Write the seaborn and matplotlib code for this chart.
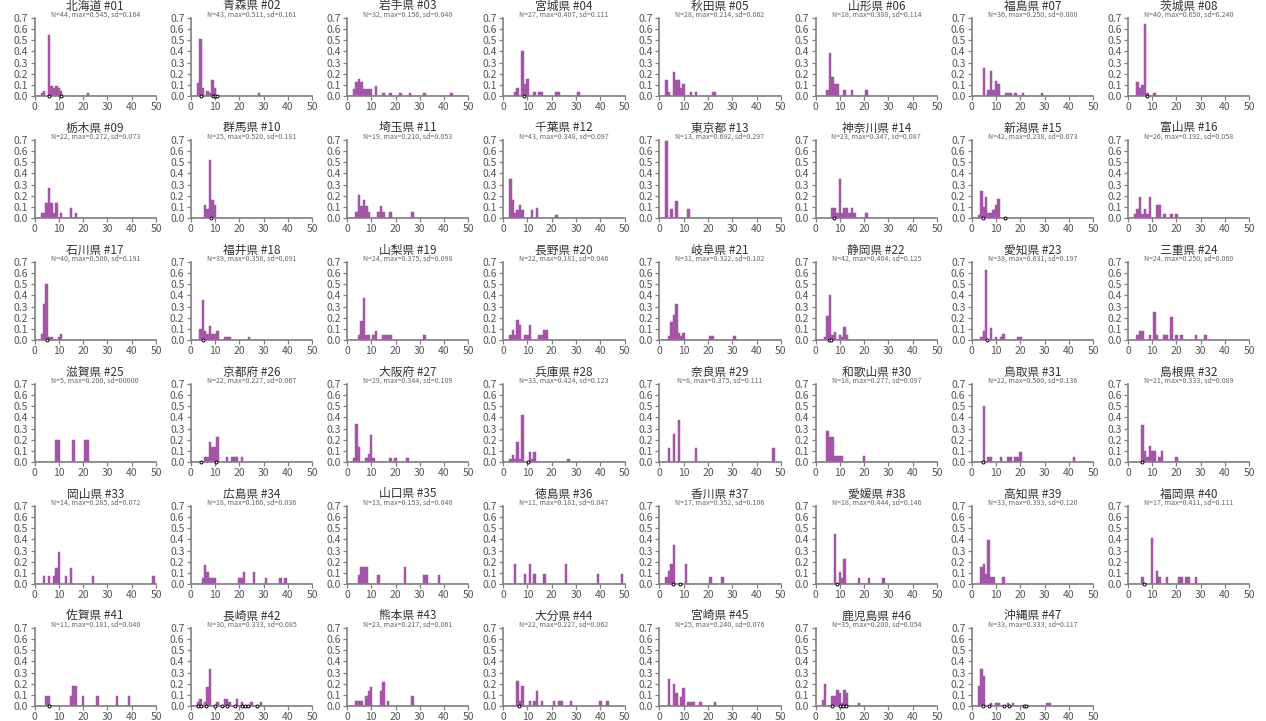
import numpy as np
import pandas as pd
import seaborn as sns
import matplotlib.pyplot as plt

NAMES = ["北海道", "青森県", "岩手県", "宮城県", "秋田県", "山形県", "福島県", "茨城県",
         "栃木県", "群馬県", "埼玉県", "千葉県", "東京都", "神奈川県", "新潟県", "富山県",
         "石川県", "福井県", "山梨県", "長野県", "岐阜県", "静岡県", "愛知県", "三重県",
         "滋賀県", "京都府", "大阪府", "兵庫県", "奈良県", "和歌山県", "鳥取県", "島根県",
         "岡山県", "広島県", "山口県", "徳島県", "香川県", "愛媛県", "高知県", "福岡県",
         "佐賀県", "長崎県", "熊本県", "大分県", "宮崎県", "鹿児島県", "沖縄県"]
N = [44, 43, 32, 27, 28, 18, 36, 40, 22, 25, 19, 43, 13, 23, 42, 26, 40, 39, 24, 22,
     31, 42, 38, 24, 5, 22, 29, 33, 8, 18, 22, 21, 14, 18, 13, 11, 17, 18, 33, 17,
     11, 30, 23, 22, 25, 35, 33]
MAXV = ["0.545", "0.511", "0.156", "0.407", "0.214", "0.388", "0.250", "0.650",
        "0.272", "0.520", "0.210", "0.348", "0.692", "0.347", "0.238", "0.192",
        "0.500", "0.358", "0.375", "0.181", "0.322", "0.404", "0.631", "0.250",
        "0.200", "0.227", "0.344", "0.424", "0.375", "0.277", "0.500", "0.333",
        "0.285", "0.166", "0.153", "0.181", "0.352", "0.444", "0.393", "0.411",
        "0.181", "0.333", "0.217", "0.227", "0.240", "0.200", "0.333"]
SD = ["0.164", "0.161", "0.040", "0.111", "0.062", "0.114", "0.080", "0.240",
      "0.073", "0.181", "0.053", "0.097", "0.297", "0.087", "0.073", "0.058",
      "0.191", "0.091", "0.098", "0.046", "0.102", "0.125", "0.197", "0.069",
      "00000", "0.067", "0.109", "0.123", "0.111", "0.097", "0.136", "0.089",
      "0.072", "0.036", "0.040", "0.047", "0.106", "0.146", "0.120", "0.111",
      "0.040", "0.085", "0.061", "0.062", "0.076", "0.054", "0.117"]

# bar centres (integer values) per prefecture
BINS = [
    [3, 4, 6, 7, 8, 9, 10, 11, 22],
    [3, 4, 5, 7, 8, 9, 10, 28],
    [3, 4, 5, 6, 7, 8, 9, 10, 12, 15, 18, 22, 26, 32, 43],
    [5, 6, 8, 9, 10, 13, 15, 16, 22, 23, 31],
    [3, 4, 6, 7, 8, 9, 10, 13, 15, 22, 23],
    [5, 6, 7, 8, 9, 12, 15, 21],
    [5, 7, 8, 9, 10, 11, 14, 15, 16, 18, 21, 29],
    [4, 5, 6, 7, 8, 11],
    [3, 4, 5, 6, 7, 8, 9, 11, 15, 17],
    [6, 7, 8, 9, 10],
    [4, 5, 6, 7, 8, 9, 13, 14, 15, 18, 27],
    [3, 4, 5, 6, 7, 8, 12, 14, 22],
    [3, 5, 7, 12],
    [7, 8, 9, 10, 11, 12, 13, 14, 15, 16, 21],
    [3, 4, 5, 6, 7, 8, 9, 10, 11],
    [3, 4, 5, 6, 7, 8, 9, 12, 13, 15, 18, 20],
    [3, 4, 5, 6, 7, 10, 11],
    [4, 5, 6, 7, 8, 9, 10, 11, 14, 15, 16, 24],
    [5, 6, 7, 8, 9, 11, 12, 15, 16, 17, 18, 32],
    [3, 4, 5, 6, 7, 9, 10, 11, 15, 16, 17, 18],
    [4, 5, 6, 7, 8, 9, 10, 21, 22, 31],
    [4, 5, 6, 7, 8, 10, 11, 12, 13],
    [4, 5, 6, 8, 10, 12, 13, 19, 20],
    [4, 5, 6, 9, 11, 12, 15, 16, 18, 20, 22, 28, 32],
    [9, 10, 16, 21, 22],
    [6, 7, 8, 9, 10, 11, 15, 17, 18, 19, 21],
    [3, 4, 5, 8, 9, 10, 11, 18, 20, 25],
    [3, 4, 5, 6, 7, 8, 11, 12, 13, 27],
    [4, 6, 8, 15, 47],
    [5, 6, 7, 8, 9, 10, 11, 20],
    [5, 7, 8, 12, 15, 16, 18, 19, 20, 42],
    [6, 7, 8, 9, 10, 11, 13, 14, 20],
    [4, 6, 8, 9, 10, 13, 15, 24, 49],
    [5, 6, 7, 8, 9, 10, 20, 21, 22, 26, 31, 37, 39],
    [5, 6, 7, 8, 13, 24, 32, 33, 38],
    [5, 9, 11, 13, 17, 26, 39, 49],
    [3, 4, 5, 6, 11, 21, 26],
    [8, 10, 11, 12, 18, 22, 28],
    [4, 5, 6, 7, 8, 9, 13],
    [6, 10, 12, 13, 16, 21, 22, 24, 25, 28],
    [5, 6, 15, 16, 17, 20, 26, 34, 39],
    [3, 4, 6, 7, 8, 11, 14, 15, 16, 19, 21, 25, 29],
    [4, 5, 6, 8, 9, 10, 14, 15, 17, 27],
    [6, 7, 8, 11, 13, 14, 16, 21, 23, 24, 28, 40, 43],
    [4, 6, 7, 9, 10, 12, 13, 14, 17, 23],
    [3, 4, 7, 8, 9, 10, 11, 12, 13, 18],
    [3, 4, 5, 8, 10, 11, 15, 17, 31, 32],
]
COUNTS = [
    [1, 2, 24, 4, 3, 4, 3, 2, 1],
    [5, 22, 3, 2, 1, 6, 3, 1],
    [2, 4, 5, 4, 2, 2, 2, 2, 3, 1, 1, 1, 1, 1, 1],
    [1, 2, 11, 3, 4, 1, 1, 1, 1, 1, 1],
    [4, 1, 6, 4, 4, 2, 3, 1, 1, 1, 1],
    [1, 7, 3, 2, 2, 1, 1, 1],
    [9, 2, 8, 2, 5, 4, 1, 1, 1, 1, 1, 1],
    [5, 3, 4, 26, 1, 1],
    [1, 1, 3, 6, 3, 1, 3, 1, 2, 1],
    [3, 2, 13, 4, 3],
    [1, 4, 2, 3, 2, 1, 1, 2, 1, 1, 1],
    [15, 7, 2, 3, 5, 3, 3, 4, 1],
    [9, 1, 2, 1],
    [2, 2, 1, 8, 1, 2, 2, 1, 2, 1, 1],
    [1, 10, 4, 8, 2, 2, 3, 5, 7],
    [1, 2, 5, 1, 2, 1, 5, 3, 3, 1, 1, 1],
    [2, 13, 20, 1, 1, 1, 2],
    [4, 14, 3, 2, 5, 2, 2, 3, 1, 1, 1, 1],
    [1, 4, 9, 1, 1, 1, 2, 1, 1, 1, 1, 1],
    [1, 2, 1, 4, 3, 1, 1, 3, 1, 1, 2, 2],
    [1, 5, 7, 10, 2, 1, 2, 1, 1, 1],
    [1, 9, 17, 2, 3, 2, 1, 5, 2],
    [1, 3, 24, 4, 1, 1, 2, 1, 1],
    [1, 2, 2, 1, 6, 1, 1, 1, 5, 1, 1, 1, 1],
    [1, 1, 1, 1, 1],
    [1, 1, 4, 3, 3, 5, 1, 1, 1, 1, 1],
    [1, 10, 4, 1, 2, 7, 1, 1, 1, 1],
    [1, 2, 1, 6, 1, 14, 3, 1, 3, 1],
    [1, 2, 3, 1, 1],
    [5, 4, 4, 1, 1, 1, 1, 1],
    [11, 1, 1, 1, 1, 1, 1, 1, 2, 1],
    [7, 2, 1, 3, 2, 2, 1, 2, 1],
    [1, 1, 1, 2, 4, 1, 2, 1, 1],
    [1, 3, 2, 1, 1, 1, 1, 1, 2, 2, 1, 1, 1],
    [1, 2, 2, 2, 1, 2, 1, 1, 1],
    [2, 1, 2, 1, 1, 2, 1, 1],
    [1, 2, 3, 6, 3, 1, 1],
    [8, 2, 1, 4, 1, 1, 1],
    [5, 6, 3, 13, 2, 2, 2],
    [1, 7, 2, 1, 1, 1, 1, 1, 1, 1],
    [1, 1, 1, 2, 2, 1, 1, 1, 1],
    [1, 2, 1, 5, 10, 1, 2, 2, 1, 2, 1, 1, 1],
    [1, 1, 1, 2, 3, 4, 3, 5, 1, 2],
    [5, 1, 4, 1, 1, 3, 1, 1, 1, 1, 1, 1, 1],
    [6, 5, 3, 2, 4, 1, 1, 1, 1, 1],
    [2, 7, 3, 3, 5, 4, 1, 5, 4, 1],
    [6, 11, 9, 1, 1, 1, 1, 1, 1, 1],
]
MARKS = [
    [6.0, 11.0], [4.4, 9.2, 10.0, 10.9], [], [8.7], [], [], [], [7.9],
    [], [8.2], [], [], [], [7.7], [4.7, 13.7], [],
    [5.0], [5.2], [], [], [], [5.5, 6.2], [6.5], [],
    [], [4.2, 10.4], [], [10.4], [], [], [4.7], [5.7],
    [], [], [], [], [5.5, 8.5], [8.7], [], [6.7],
    [6.0], [3.2, 4.2, 6.2, 10.2, 13.0, 14.9, 18.2, 21.0, 22.2, 23.5, 27.2], [], [6.5],
    [], [6.7, 10.2, 11.2, 12.7], [4.7, 7.2, 13.2, 15.2, 21.7, 22.5],
]
Y_TICKS = [0.0, 0.1, 0.2, 0.3, 0.4, 0.5, 0.6, 0.7]
X_TICKS = [0, 10, 20, 30, 40, 50]

PURPLE = "#a455a8"
AXIS_COLOR = "#808080"
LABEL_COLOR = "#555555"

sns.set_style("ticks")
plt.rcParams["font.family"] = ["Noto Sans CJK JP", "DejaVu Sans"]

W, H = 1266, 721
fig = plt.figure(figsize=(W / 100, H / 100), dpi=100)

for i, name in enumerate(NAMES):
    r, c = divmod(i, 8)
    left = 34.5 + c * 156.2
    base = 96 + r * 122
    ax = fig.add_axes([left / W, 1 - base / H, 121.5 / W, 78 / H])
    n = N[i]
    df = pd.DataFrame({"x": np.array(BINS[i], dtype=float),
                       "w": np.array(COUNTS[i], dtype=float) / n})
    sns.histplot(data=df, x="x", weights="w", binwidth=1, binrange=(0.5, 50.5),
                 stat="count", color=PURPLE, alpha=1, linewidth=0.35,
                 edgecolor=PURPLE, ax=ax)
    if MARKS[i]:
        mk = pd.DataFrame({"x": MARKS[i], "y": [0.0] * len(MARKS[i])})
        sns.scatterplot(data=mk, x="x", y="y", marker="o", s=4.5,
                        facecolor="white", edgecolor="black", linewidth=0.7,
                        zorder=5, clip_on=False, ax=ax)
    ax.set_xlim(0, 50)
    ax.set_ylim(0, 0.7)
    ax.set_xticks(X_TICKS)
    ax.set_yticks(Y_TICKS)
    ax.set_xticklabels([str(v) for v in X_TICKS])
    ax.set_yticklabels([f"{v:.1f}" for v in Y_TICKS])
    ax.set_xlabel("")
    ax.set_ylabel("")
    for s in ["top", "right"]:
        ax.spines[s].set_visible(False)
    for s in ["left", "bottom"]:
        ax.spines[s].set_color(AXIS_COLOR)
        ax.spines[s].set_linewidth(1.2)
    ax.tick_params(axis="both", colors=AXIS_COLOR, labelcolor=LABEL_COLOR,
                   length=3, width=0.9, labelsize=7.5, pad=1.5)
    ax.text(0.5, 1 + 12 / 78, f"{name} #{i + 1:02d}", transform=ax.transAxes,
            ha="center", va="center", fontsize=8.5, color="#333333")
    ax.text(0.5, 1 + 3 / 78, f"N={n}, max={MAXV[i]}, sd={SD[i]}",
            transform=ax.transAxes, ha="center", va="center",
            fontsize=5.1, color="#666666")

fig.savefig("out.png", dpi=100, facecolor="white")
